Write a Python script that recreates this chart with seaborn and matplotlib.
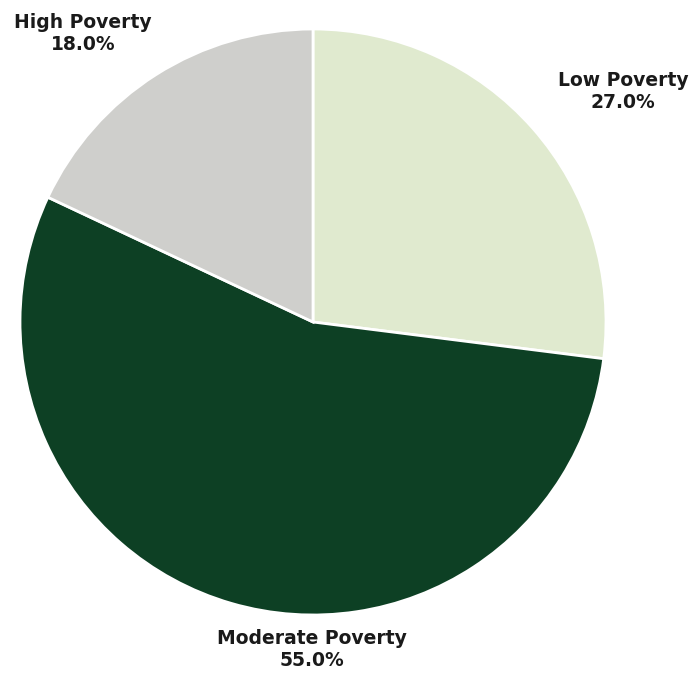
import matplotlib.pyplot as plt
import seaborn as sns

sns.set_style("white")
plt.rcParams["font.family"] = ["DejaVu Sans"]

categories = ["Low Poverty", "Moderate Poverty", "High Poverty"]
shares = [27.0, 55.0, 18.0]
colors = ["#e0eacf", "#0d4024", "#cfcfcc"]

# label anchor points (pixel coords, y measured from top)
label_pos = {"Low Poverty": (623, 91), "Moderate Poverty": (312, 650), "High Poverty": (83, 34)}

fig = plt.figure(figsize=(6.95, 6.75), dpi=100)
ax = fig.add_axes([0, 0, 1, 1])

ax.pie(shares, colors=colors, startangle=90, counterclock=False,
       center=(313, 675 - 322), radius=293, frame=True,
       wedgeprops=dict(edgecolor="white", linewidth=2))
ax.set_xlim(0, 695)
ax.set_ylim(0, 675)
ax.set_aspect("equal")
ax.axis("off")

for cat, val in zip(categories, shares):
    x, y = label_pos[cat]
    ax.text(x, 675 - y, f"{cat}\n{val:.1f}%", ha="center", va="center",
            fontsize=13.5, fontweight="bold", color="#1a1a1a", linespacing=1.2)

fig.savefig("out.png", dpi=100, facecolor="white")
